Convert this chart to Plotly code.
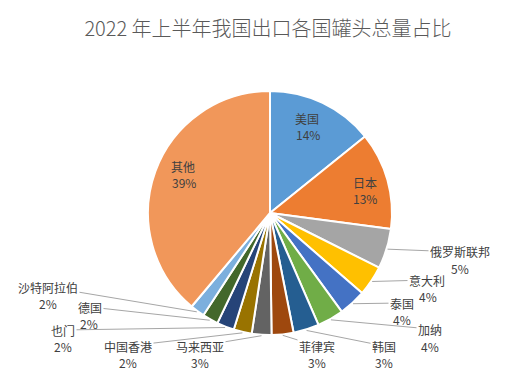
import math
import plotly.graph_objects as go

# ---- data ----
countries = ["美国", "日本", "俄罗斯联邦", "意大利", "泰国", "加纳", "韩国", "菲律宾",
             "马来西亚", "中国香港", "也门", "德国", "沙特阿拉伯", "其他"]
shares = [14.2, 12.9, 5.3, 4.0, 3.6, 3.5, 3.4, 2.9, 2.6, 2.4, 2.3, 2.1, 1.9, 38.9]
colors = ["#5B9BD5", "#ED7D31", "#A5A5A5", "#FFC000", "#4472C4", "#70AD47", "#255E91",
          "#9E480E", "#636363", "#997300", "#264478", "#43682B", "#7CAFDD", "#F1975A"]
title_text = "2022 年上半年我国出口各国罐头总量占比"

# ---- layout (pixels, page coords; page body has 8px margin) ----
OFF = 8
W, H = 519, 390
CX, CY, R = 270 - OFF, 213 - OFF, 122
name_pos = [(307, 118), (365, 182), (460, 252), (427, 280), (402, 303), (430, 329),
            (384, 346), (317, 346), (200, 346), (128, 346), (63, 330), (90, 307),
            (48, 287), (183, 166)]
pct_pos = [(308, 135), (365, 198), (460, 268), (428, 296), (402, 319), (430, 346),
           (384, 362), (317, 362), (200, 362), (128, 362), (63, 346), (89, 323),
           (48, 303), (184, 183)]
inside = {"美国", "日本", "其他"}

fig = go.Figure(go.Pie(
    labels=countries, values=shares, sort=False, direction="clockwise", rotation=0,
    marker=dict(colors=colors, line=dict(color="white", width=2)),
    textinfo="none", hoverinfo="label+percent", showlegend=False,
    domain=dict(x=[(CX - R) / W, (CX + R) / W], y=[(H - CY - R) / H, (H - CY + R) / H]),
))

total = sum(shares)
cum = 0.0
annotations = []
font = dict(family="Noto Sans CJK SC, Noto Sans, sans-serif", size=12, color="#404040")
for i, (name, v) in enumerate(zip(countries, shares)):
    mid = (cum + v / 2) / total * 2 * math.pi
    cum += v
    pct = f"{round(v / total * 100)}%"
    nx, ny = name_pos[i][0] - OFF, name_pos[i][1] - OFF
    px_, py_ = pct_pos[i][0] - OFF, pct_pos[i][1] - OFF
    if name in inside:
        annotations.append(dict(x=nx / W, y=1 - ny / H, xref="paper", yref="paper",
                                xanchor="center", yanchor="middle",
                                text=name, showarrow=False, font=font))
    else:
        tx = CX + (R + 1) * math.sin(mid)
        ty = CY - (R + 1) * math.cos(mid)
        annotations.append(dict(x=tx / W, y=1 - ty / H, xref="paper", yref="paper",
                                ax=nx - tx, ay=ny - ty, text=name, showarrow=True,
                                arrowhead=0, arrowwidth=1, arrowcolor="#A6A6A6",
                                standoff=0, font=font))
    annotations.append(dict(x=px_ / W, y=1 - py_ / H, xref="paper", yref="paper",
                            xanchor="center", yanchor="middle",
                            text=pct, showarrow=False, font=font))

fig.update_layout(
    width=W, height=H, margin=dict(l=0, r=0, t=0, b=0),
    paper_bgcolor="white", plot_bgcolor="white",
    title=dict(text=title_text, x=(268 - OFF) / W, y=1 - (29 - OFF) / H,
               xanchor="center", yanchor="middle",
               font=dict(family="Noto Sans CJK SC, sans-serif", size=20, color="#595959",
                         weight=300)),
    annotations=annotations,
)
fig.write_html("out.html")
